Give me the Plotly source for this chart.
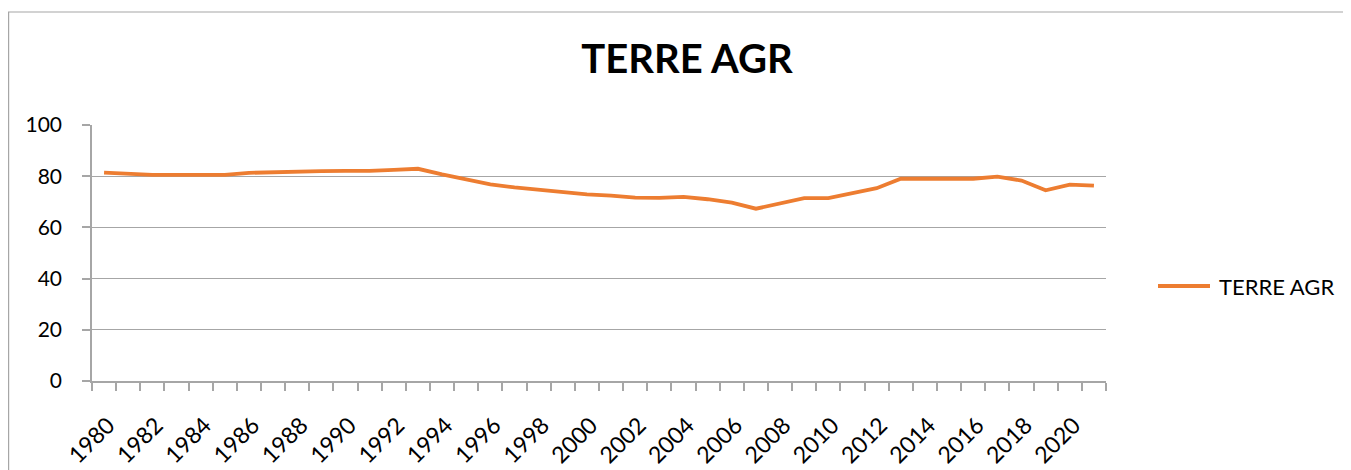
import plotly.graph_objects as go

YEARS = list(range(1980, 2022))
TERRE_AGR = [
    81.4, 80.9, 80.5, 80.5, 80.5, 80.5, 81.3, 81.6, 82.0, 82.0,
    82.1, 82.1, 82.5, 82.9, 80.7, 78.8, 76.8, 75.6, 74.6, 73.7,
    72.9, 72.4, 71.6, 71.5, 71.9, 71.0, 69.7, 67.3, 69.4, 71.4,
    71.4, 73.3, 75.3, 79.0, 79.0, 79.0, 79.0, 79.8, 78.3, 74.5,
    76.7, 76.3,
]
Y_TICKS = [0, 20, 40, 60, 80, 100]
X_LABELS = [y for y in YEARS if y % 2 == 0]
SERIES_NAME = "TERRE AGR"

ORANGE = "#ED7D31"
GRID = "#A6A6A6"
FONT = "Lato"

# the page body adds an 8px margin, so pixel targets are shifted by it
OFF = 8
W, H = 1351, 470
L, R, T, B = 92 - OFF, 1106 - OFF, 125 - OFF, 381 - OFF


def px_x(p):
    return (p - OFF - L) / (R - L)


def px_y(p):
    return (B - (p - OFF)) / (B - T)


fig = go.Figure(
    go.Scatter(
        x=YEARS,
        y=TERRE_AGR,
        mode="lines",
        name=SERIES_NAME,
        line={"color": ORANGE, "width": 3.8},
        showlegend=False,
    )
)

fig.update_layout(
    width=W,
    height=H,
    autosize=False,
    margin={"l": L, "r": W - R, "t": T, "b": H - B, "pad": 0},
    paper_bgcolor="white",
    plot_bgcolor="white",
    font={"family": FONT, "color": "#000000", "size": 19},
    title={
        "text": f"<b>{SERIES_NAME}</b>",
        "x": (687 - OFF) / W,
        "xanchor": "center",
        "y": 1 - (59 - OFF) / H,
        "yanchor": "middle",
        "font": {"size": 40, "family": FONT, "color": "#000000"},
    },
    xaxis={
        "range": [1979.5, 2021.5],
        "automargin": False,
        "tickmode": "array",
        "tickvals": X_LABELS,
        "ticktext": [str(y) for y in X_LABELS],
        "tickangle": -45,
        "ticks": "",
        "ticklabelstandoff": 20,
        "ticklabelshift": 4,
        "showgrid": False,
        "zeroline": False,
        "showline": True,
        "linecolor": GRID,
        "linewidth": 1.5,
        "tickfont": {"size": 23},
        "minor": {
            "tickmode": "array",
            "tickvals": [y - 0.5 for y in YEARS] + [YEARS[-1] + 0.5],
            "ticks": "outside",
            "ticklen": 8,
            "tickcolor": GRID,
            "tickwidth": 1.5,
            "showgrid": False,
        },
    },
    yaxis={
        "range": [0, 100],
        "automargin": False,
        "tickmode": "array",
        "tickvals": Y_TICKS,
        "ticks": "outside",
        "ticklen": 8,
        "tickcolor": GRID,
        "tickwidth": 1.5,
        "ticklabelstandoff": 16,
        "showgrid": True,
        "gridcolor": GRID,
        "gridwidth": 1.2,
        "zeroline": False,
        "showline": True,
        "linecolor": GRID,
        "linewidth": 1.5,
        "tickfont": {"size": 21},
    },
    shapes=[
        {
            "type": "rect",
            "xref": "paper",
            "yref": "paper",
            "x0": px_x(8.6),
            "x1": px_x(1365),
            "y0": px_y(490),
            "y1": px_y(12),
            "line": {"color": GRID, "width": 1.2},
            "fillcolor": "rgba(0,0,0,0)",
            "layer": "below",
        },
        # legend key
        {
            "type": "line",
            "xref": "paper",
            "yref": "paper",
            "x0": px_x(1158),
            "x1": px_x(1210),
            "y0": px_y(286),
            "y1": px_y(286),
            "line": {"color": ORANGE, "width": 3.8},
        },
    ],
    annotations=[
        {
            "text": SERIES_NAME,
            "xref": "paper",
            "yref": "paper",
            "x": px_x(1217),
            "y": px_y(286),
            "xanchor": "left",
            "yanchor": "middle",
            "showarrow": False,
            "font": {"size": 22, "family": FONT, "color": "#000000"},
        }
    ],
)

fig.write_html("out.html")
